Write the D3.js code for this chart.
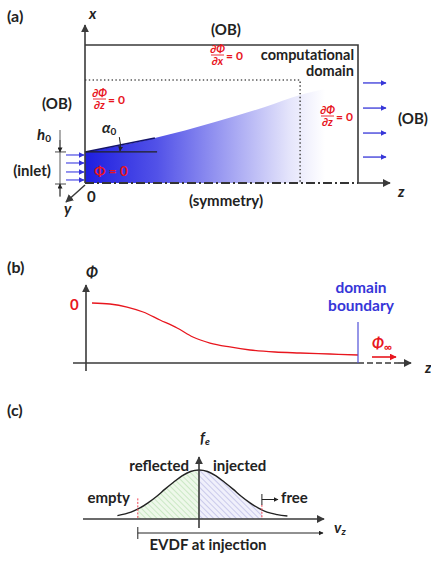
<!DOCTYPE html>
<html>
<head>
<meta charset="utf-8">
<script src="https://cdn.jsdelivr.net/npm/d3@7"></script>
<style>
  body { margin: 0; background: #fff; }
  text { font-family: Lato, "DejaVu Sans", sans-serif; font-weight: bold; }
</style>
</head>
<body>
<svg id="fig" width="431" height="561"></svg>
<script>
// ---- panel (a): schematic, in domain units (z along, x across) ----
var plumeZ = [0, 0.256, 0.476, 0.659, 0.788, 0.897];
var plumeX = [0.225, 0.326, 0.442, 0.551, 0.638, 0.688];
var h0 = 0.225;
var dottedZ = 0.788, dottedX = 0.746;
var inletArrowsX = [0.203, 0.145, 0.08, 0.022];
var outletArrowsX = [0.725, 0.543, 0.362, 0.188];

// ---- panel (b): potential along z ----
var phiZ = [0.022, 0.088, 0.151, 0.21, 0.272, 0.335, 0.393, 0.456, 0.529, 0.603, 0.695, 0.787, 0.897, 1.0];
var phiVal = [0, -0.017, -0.067, -0.15, -0.283, -0.417, -0.567, -0.667, -0.733, -0.783, -0.817, -0.833, -0.85, -0.867];

// ---- panel (c): EVDF ----
var vz = [-2.4, -2, -1.75, -1.5, -1.25, -1, -0.75, -0.5, -0.25, 0, 0.25, 0.5, 0.75, 1, 1.25, 1.5, 1.75, 2, 2.3, 2.6];
var fe = [0.07, 0.14, 0.22, 0.33, 0.46, 0.61, 0.75, 0.88, 0.97, 1, 0.97, 0.88, 0.75, 0.61, 0.46, 0.33, 0.22, 0.14, 0.09, 0.06];
var cutLeft = -1.8, cutRight = 1.85;

var RED = "#e8161e", BLUE = "#3636d8", AX = "#3a3a3a";

var svg = d3.select("#fig");
var defs = svg.append("defs");

function marker(id, color, size) {
  defs.append("marker")
    .attr("id", id)
    .attr("viewBox", "0 0 10 10")
    .attr("refX", 9).attr("refY", 5)
    .attr("markerWidth", size).attr("markerHeight", size)
    .attr("markerUnits", "userSpaceOnUse")
    .attr("orient", "auto")
    .append("path").attr("d", "M0,0L10,5L0,10z").attr("fill", color);
}
marker("arK", AX, 8);
marker("arKs", "#222", 5);
marker("arB", BLUE, 6);
marker("arR", RED, 7);

var grad = defs.append("linearGradient").attr("id", "plumeGrad")
  .attr("gradientUnits", "userSpaceOnUse").attr("x1", 85).attr("x2", 325).attr("y1", 0).attr("y2", 0);
[[0, "#1e1ee0"], [0.3, "#5252e8"], [0.6, "#a2a2f2"], [0.85, "#e4e4fb"], [1, "#ffffff"]].forEach(function (s) {
  grad.append("stop").attr("offset", s[0]).attr("stop-color", s[1]);
});

function hatch(id, bg, fg) {
  var p = defs.append("pattern").attr("id", id).attr("patternUnits", "userSpaceOnUse")
    .attr("width", 4).attr("height", 4).attr("patternTransform", "rotate(-45)");
  p.append("rect").attr("width", 4).attr("height", 4).attr("fill", bg);
  p.append("line").attr("x1", 0).attr("y1", 0).attr("x2", 0).attr("y2", 4)
    .attr("stroke", fg).attr("stroke-width", 1);
}
hatch("hGreen", "#eef8ea", "#a9d9a0");
hatch("hBlue", "#f0f0fb", "#a4a4dc");

function label(x, y, s, opt) {
  opt = opt || {};
  return svg.append("text").attr("x", x).attr("y", y)
    .attr("font-size", opt.size || 15)
    .attr("fill", opt.color || "#222")
    .attr("text-anchor", opt.anchor || "start")
    .attr("font-style", opt.italic ? "italic" : null)
    .text(s);
}

function frac(x, y, v) {
  var w = 13, cx = x + w / 2;
  label(cx, y - 2, "\u2202\u03A6", { size: 11, color: RED, anchor: "middle", italic: true });
  svg.append("line").attr("x1", x).attr("x2", x + w).attr("y1", y).attr("y2", y)
    .attr("stroke", RED).attr("stroke-width", 0.9);
  label(cx, y + 9.5, "\u2202" + v, { size: 11, color: RED, anchor: "middle", italic: true });
  label(x + w + 2, y + 5, "= 0", { size: 12, color: RED });
}

// ================= panel (a) =================
var az = d3.scaleLinear().domain([0, 1]).range([85, 358]);
var ax = d3.scaleLinear().domain([0, 1]).range([183, 45]);
var plume = plumeZ.map(function (z, i) { return [z, plumeX[i]]; });

svg.append("path").datum(plume)
  .attr("d", d3.area().x(function (d) { return az(d[0]); })
    .y0(ax(0)).y1(function (d) { return ax(d[1]); }).curve(d3.curveMonotoneX))
  .attr("fill", "url(#plumeGrad)");

// plume edge near the inlet
svg.append("path").datum(plume.slice(0, 2))
  .attr("d", d3.line().x(function (d) { return az(d[0]); }).y(function (d) { return ax(d[1]); }))
  .attr("stroke", "#14146a").attr("stroke-width", 1.6).attr("fill", "none");

// reference line for angle
svg.append("line").attr("x1", az(0)).attr("x2", az(0.264)).attr("y1", ax(h0)).attr("y2", ax(h0))
  .attr("stroke", "#222").attr("stroke-width", 1.2);

// angle arc
(function () {
  var ox = az(0), oy = ax(h0), r = 35;
  var a = Math.atan2(ax(plumeX[1]) - oy, az(plumeZ[1]) - ox);
  svg.append("path")
    .attr("d", "M" + (ox + r * Math.cos(a)) + "," + (oy + r * Math.sin(a) - 8) +
      " A" + r + "," + r + " 0 0 1 " + (ox + r) + "," + (oy - 1))
    .attr("stroke", "#222").attr("stroke-width", 1).attr("fill", "none")
    .attr("marker-end", "url(#arKs)");
})();

// computational box and dotted inner domain
svg.append("path").attr("d", "M" + az(0) + "," + ax(1) + "H" + az(1) + "V" + ax(0))
  .attr("stroke", AX).attr("stroke-width", 1.6).attr("fill", "none");
svg.append("path").attr("d", "M" + az(0) + "," + ax(dottedX) + "H" + az(dottedZ) + "V" + ax(0))
  .attr("stroke", "#555").attr("stroke-width", 1.6).attr("fill", "none")
  .attr("stroke-dasharray", "1.4,2.4");

// symmetry line (dash-dot) and z arrow
svg.append("line").attr("x1", az(0)).attr("x2", az(1)).attr("y1", ax(0)).attr("y2", ax(0))
  .attr("stroke", "#333").attr("stroke-width", 2).attr("stroke-dasharray", "9,3,2,3");
svg.append("line").attr("x1", az(1)).attr("x2", 390).attr("y1", ax(0)).attr("y2", ax(0))
  .attr("stroke", AX).attr("stroke-width", 1.6).attr("marker-end", "url(#arK)");

// x axis, y axis
svg.append("line").attr("x1", az(0)).attr("x2", az(0)).attr("y1", ax(0)).attr("y2", 25)
  .attr("stroke", AX).attr("stroke-width", 1.6).attr("marker-end", "url(#arK)");
svg.append("line").attr("x1", az(0)).attr("y1", ax(0) + 2).attr("x2", 66).attr("y2", 202)
  .attr("stroke", AX).attr("stroke-width", 1.5).attr("marker-end", "url(#arK)");

// inlet and outlet arrows
inletArrowsX.forEach(function (v) {
  svg.append("line").attr("x1", 66).attr("x2", az(0) - 1).attr("y1", ax(v)).attr("y2", ax(v))
    .attr("stroke", "#5a5ae6").attr("stroke-width", 1.3).attr("marker-end", "url(#arB)");
});
outletArrowsX.forEach(function (v) {
  svg.append("line").attr("x1", 363).attr("x2", 386).attr("y1", ax(v)).attr("y2", ax(v))
    .attr("stroke", BLUE).attr("stroke-width", 1.3).attr("marker-end", "url(#arB)");
});

// h0 dimension
svg.append("line").attr("x1", 60).attr("x2", 60).attr("y1", 130).attr("y2", 197)
  .attr("stroke", "#333").attr("stroke-width", 0.8);
[ax(h0), ax(0) + 1].forEach(function (y) {
  svg.append("line").attr("x1", 55).attr("x2", 66).attr("y1", y).attr("y2", y)
    .attr("stroke", "#333").attr("stroke-width", 0.9);
});
svg.append("line").attr("x1", 60).attr("x2", 60).attr("y1", 140).attr("y2", ax(h0))
  .attr("stroke", "#333").attr("stroke-width", 0.8).attr("marker-end", "url(#arKs)");
svg.append("line").attr("x1", 60).attr("x2", 60).attr("y1", 196).attr("y2", ax(0) + 1)
  .attr("stroke", "#333").attr("stroke-width", 0.8).attr("marker-end", "url(#arKs)");

// labels (a)
label(7, 22, "(a)", { size: 16 });
label(89, 19, "x", { size: 15, italic: true });
label(226, 35, "(OB)", { anchor: "middle" });
label(57, 109, "(OB)", { anchor: "middle" });
label(413, 124, "(OB)", { anchor: "middle" });
label(354, 60, "computational", { anchor: "end", size: 14.5 });
label(354, 76, "domain", { anchor: "end", size: 14.5 });
label(32, 176, "(inlet)", { anchor: "middle" });
label(226, 206, "(symmetry)", { anchor: "middle" });
label(398, 197, "z", { size: 15, italic: true });
label(64, 214, "y", { size: 15, italic: true });
label(87, 202, "0", { size: 15 });
label(94, 176, "\u03A6 = 0", { size: 13.5, color: RED });
var hl = label(37, 140, "h", { size: 15, italic: true });
hl.append("tspan").attr("font-size", 10).attr("font-style", "normal").attr("dy", 2).text("0");
var al = label(102, 133, "\u03B1", { size: 15, italic: true });
al.append("tspan").attr("font-size", 10).attr("font-style", "normal").attr("dy", 2).text("0");
frac(211, 55, "x");
frac(93, 99, "z");
frac(321, 116, "z");

// ================= panel (b) =================
var bz = d3.scaleLinear().domain([0, 1]).range([86, 358]);
var bphi = d3.scaleLinear().domain([0, -1]).range([303, 363]);

svg.append("line").attr("x1", 73).attr("x2", bz(1)).attr("y1", bphi(-1)).attr("y2", bphi(-1))
  .attr("stroke", AX).attr("stroke-width", 1.6);
svg.append("line").attr("x1", bz(1)).attr("x2", 398).attr("y1", bphi(-1)).attr("y2", bphi(-1))
  .attr("stroke", AX).attr("stroke-width", 1.6).attr("stroke-dasharray", "6,3");
svg.append("line").attr("x1", 398).attr("x2", 411).attr("y1", bphi(-1)).attr("y2", bphi(-1))
  .attr("stroke", AX).attr("stroke-width", 1.6).attr("marker-end", "url(#arK)");
svg.append("line").attr("x1", bz(0)).attr("x2", bz(0)).attr("y1", 371).attr("y2", 285)
  .attr("stroke", AX).attr("stroke-width", 1.6).attr("marker-end", "url(#arK)");

svg.append("path").datum(phiZ.map(function (z, i) { return [z, phiVal[i]]; }))
  .attr("d", d3.line().x(function (d) { return bz(d[0]); }).y(function (d) { return bphi(d[1]); })
    .curve(d3.curveMonotoneX))
  .attr("stroke", RED).attr("stroke-width", 1.3).attr("fill", "none");

svg.append("line").attr("x1", bz(1)).attr("x2", bz(1)).attr("y1", 322).attr("y2", bphi(-1))
  .attr("stroke", "#5050d8").attr("stroke-width", 1.2);
svg.append("line").attr("x1", 372).attr("x2", 396).attr("y1", 357).attr("y2", 357)
  .attr("stroke", RED).attr("stroke-width", 1.6).attr("marker-end", "url(#arR)");

label(7, 273, "(b)", { size: 16 });
label(86, 278, "\u03A6", { size: 15, italic: true });
label(70, 310, "0", { size: 15, color: RED });
label(361, 293, "domain", { anchor: "middle", color: BLUE, size: 15.5 });
label(361, 311, "boundary", { anchor: "middle", color: BLUE, size: 15.5 });
var pinf = label(372, 349, "\u03A6", { size: 15, italic: true, color: RED });
pinf.append("tspan").attr("font-size", 11).attr("font-style", "normal").attr("dy", 2).text("\u221E");
label(425, 373, "z", { size: 15, italic: true });

// ================= panel (c) =================
var cv = d3.scaleLinear().domain([-3, 3]).range([97, 301]);
var cf = d3.scaleLinear().domain([0, 1]).range([519, 470]);
var evdf = vz.map(function (v, i) { return [v, fe[i]]; });
var area = d3.area().x(function (d) { return cv(d[0]); }).y0(cf(0)).y1(function (d) { return cf(d[1]); })
  .curve(d3.curveMonotoneX);

defs.append("clipPath").attr("id", "clipL").append("rect")
  .attr("x", cv(cutLeft)).attr("y", 440).attr("width", cv(0) - cv(cutLeft)).attr("height", 80);
defs.append("clipPath").attr("id", "clipR").append("rect")
  .attr("x", cv(0)).attr("y", 440).attr("width", cv(cutRight) - cv(0)).attr("height", 80);

svg.append("path").datum(evdf).attr("d", area).attr("fill", "url(#hGreen)").attr("clip-path", "url(#clipL)");
svg.append("path").datum(evdf).attr("d", area).attr("fill", "url(#hBlue)").attr("clip-path", "url(#clipR)");

svg.append("path").datum(evdf)
  .attr("d", d3.line().x(function (d) { return cv(d[0]); }).y(function (d) { return cf(d[1]); })
    .curve(d3.curveMonotoneX))
  .attr("stroke", "#222").attr("stroke-width", 1.4).attr("fill", "none");

// cutoffs
svg.append("line").attr("x1", cv(cutLeft)).attr("x2", cv(cutLeft)).attr("y1", cf(0.42)).attr("y2", cf(0))
  .attr("stroke", "#f04050").attr("stroke-width", 1).attr("stroke-dasharray", "2,1.5");
svg.append("line").attr("x1", cv(cutRight)).attr("x2", cv(cutRight)).attr("y1", cf(0.29)).attr("y2", cf(0))
  .attr("stroke", "#f04050").attr("stroke-width", 1).attr("stroke-dasharray", "2,1.5");

// axes
svg.append("line").attr("x1", 83).attr("x2", 324).attr("y1", cf(0)).attr("y2", cf(0))
  .attr("stroke", AX).attr("stroke-width", 1.6).attr("marker-end", "url(#arK)");
svg.append("line").attr("x1", cv(0)).attr("x2", cv(0)).attr("y1", 528).attr("y2", 457)
  .attr("stroke", AX).attr("stroke-width", 1.6).attr("marker-end", "url(#arK)");

// free bracket
svg.append("line").attr("x1", cv(cutRight)).attr("x2", cv(cutRight)).attr("y1", 494).attr("y2", 505)
  .attr("stroke", "#222").attr("stroke-width", 1);
svg.append("line").attr("x1", cv(cutRight)).attr("x2", 278).attr("y1", 499.5).attr("y2", 499.5)
  .attr("stroke", "#222").attr("stroke-width", 1).attr("marker-end", "url(#arKs)");

// EVDF at injection bracket
svg.append("line").attr("x1", cv(cutLeft)).attr("x2", cv(cutLeft)).attr("y1", 527).attr("y2", 539)
  .attr("stroke", "#222").attr("stroke-width", 1);
svg.append("line").attr("x1", cv(cutLeft)).attr("x2", 323).attr("y1", 533).attr("y2", 533)
  .attr("stroke", "#222").attr("stroke-width", 1).attr("marker-end", "url(#arKs)");

label(7, 416, "(c)", { size: 16 });
var fl = label(200, 443, "f", { size: 15, italic: true });
fl.append("tspan").attr("font-size", 10).attr("dy", 2).text("e");
label(189, 471, "reflected", { anchor: "end" });
label(213, 471, "injected");
label(130, 503, "empty", { anchor: "end" });
label(281, 503, "free");
var vl = label(334, 533, "v", { size: 15, italic: true });
vl.append("tspan").attr("font-size", 10).attr("dy", 2).text("z");
label(208, 550, "EVDF at injection", { anchor: "middle" });
</script>
</body>
</html>
